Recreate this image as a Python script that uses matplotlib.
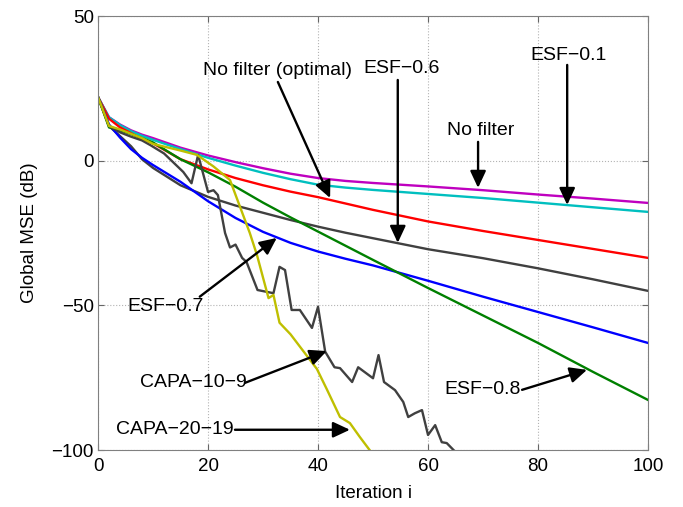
import numpy as np
import matplotlib
matplotlib.use('Agg')
import matplotlib.pyplot as plt

plt.rcParams['font.family'] = ['Liberation Sans', 'DejaVu Sans']

# smooth curves, sampled at these iterations
it = [0, 2, 4, 6, 8, 10, 15, 20, 25, 30, 35, 40, 45, 50, 60, 70, 80, 90, 100]

no_filter = [22, 15, 12.5, 10.5, 9, 7.8, 4.5, 1.8, -0.5, -2.6, -4.5, -6.0, -7.0, -7.7, -8.9, -10.2, -11.7, -13.1, -14.6]
esf_01 = [22, 15, 12.3, 10.2, 8.6, 7.2, 4.0, 1.0, -1.7, -4.2, -6.4, -8.3, -9.3, -10.1, -11.5, -12.9, -14.5, -16.1, -17.7]
no_filter_opt = [22, 14.5, 11.5, 9.5, 7.5, 6, 0.5, -3, -6, -8.5, -10.7, -12.6, -14.8, -17, -21, -24.3, -27.4, -30.5, -33.6]
esf_06 = [22, 12, 8.5, 5, 0.5, -2.5, -8.5, -12.5, -15.5, -18, -20.5, -22.8, -24.9, -26.8, -30.6, -33.7, -37.2, -41, -45]
esf_07 = [22, 12.5, 8, 4, 1, -1.5, -7.3, -14, -19.8, -24.6, -28.4, -31.4, -33.9, -36.2, -41.5, -47, -52.3, -57.6, -63]
esf_08 = [22, 11.5, 10.5, 9.2, 7.8, 6.3, 0.5, -4, -9, -14.5, -19.6, -24.5, -29.4, -34.3, -44, -53.5, -63, -73, -82.7]

# CAPA curves
capa20_it = [0, 2, 4, 6, 8, 10, 15, 18, 21, 24, 27.6, 28.9, 31, 31.9, 33, 35, 39.8, 41.6, 44, 45.8, 47.6, 49.5, 50]
capa20 = [22, 12, 10.8, 9.3, 7.8, 5.8, 3.5, 2, -2, -6.7, -25, -32.6, -47.5, -46.4, -56, -60, -72, -79, -88.6, -90.7, -95.5, -100.3, -101.5]

capa10_it = [0, 2, 4, 6, 8, 9.5, 12, 15.5, 17, 18.2, 20, 21, 21.8, 23.1, 24, 25, 26.2, 27, 29, 31.9, 33, 34,
             35.2, 36.7, 38.9, 40, 41.3, 43, 44, 46.2, 47.3, 50, 51, 52, 54, 55.5, 56.4, 57.6, 58.9, 60, 61.3,
             62.5, 63.4, 65, 66]
capa10 = [22, 12, 9.8, 8.3, 7, 5.4, 2.5, -3.9, -7.8, 2, -10.8, -10.2, -11.9, -25, -30, -29, -33.6, -35, -44.7,
          -45.8, -36.7, -37.8, -51.6, -51.6, -57.8, -50.5, -66, -71.4, -71.7, -76.5, -71.4, -75.2, -67.2, -76.5,
          -79.3, -83.4, -88.6, -87.3, -86.2, -94.8, -91.4, -97.3, -97.6, -100.7, -102]

fig = plt.figure(figsize=(6.83, 5.07), dpi=100)
ax = fig.add_axes([0.1435, 0.1124, 0.8053, 0.856])

lw = 1.7
ax.plot(it, no_filter, color=(0.75, 0, 0.75), lw=lw)
ax.plot(it, esf_01, color=(0, 0.75, 0.75), lw=lw)
ax.plot(it, no_filter_opt, color='red', lw=lw)
ax.plot(it, esf_06, color=(0.25, 0.25, 0.25), lw=lw)
ax.plot(it, esf_07, color='blue', lw=lw)
ax.plot(it, esf_08, color=(0, 0.5, 0), lw=lw)
ax.plot(capa10_it, capa10, color=(0.25, 0.25, 0.25), lw=lw)
ax.plot(capa20_it, capa20, color=(0.75, 0.75, 0), lw=lw)

ax.set_xlim(0, 100)
ax.set_ylim(-100, 50)
ax.set_xticks([0, 20, 40, 60, 80, 100])
ax.set_yticks([-100, -50, 0, 50])
ax.grid(True, linestyle=':', color='0.7', lw=0.8)
ax.tick_params(direction='in', top=True, right=True, labelsize=13.5, length=4, color='0.4')
ax.tick_params(axis='x', pad=6)
ax.tick_params(axis='y', pad=3)
for s in ax.spines.values():
    s.set_color('0.5')
ax.set_xlabel('Iteration i', fontsize=13.5, labelpad=7)
ax.set_ylabel('Global MSE (dB)', fontsize=13.5, labelpad=10)

arrow = dict(arrowstyle='-|>,head_length=0.6,head_width=0.28', color='k', lw=1.7,
             mutation_scale=17, shrinkA=0, shrinkB=0)
notes = [
    ('No filter (optimal)', (42.2, -12.9), (32.7, 31.3)),
    ('ESF\u22120.6', (54.5, -28.4), (55.1, 32.0)),
    ('ESF\u22120.1', (85.3, -15.3), (85.5, 36.5)),
    ('No filter', (69.1, -9.4), (69.5, 10.6)),
    ('ESF\u22120.7', (32.5, -26.7), (12.2, -50.5)),
    ('CAPA\u221210\u22129', (41.6, -65.8), (17.3, -76.8)),
    ('CAPA\u221220\u221219', (45.8, -93.0), (14.0, -93.0)),
    ('ESF\u22120.8', (88.9, -72.3), (70.0, -79.2)),
]
tails = [(32.7, 27.2), (54.5, 27.9), (85.3, 33.1), (69.1, 6.5),
         (18.5, -47), (26.7, -76.8), (24.9, -93.0), (77.1, -79.2)]
for (txt, head, pos), tail in zip(notes, tails):
    ax.text(pos[0], pos[1], txt, fontsize=14, ha='center', va='center')
    ax.annotate('', xy=head, xytext=tail, arrowprops=arrow)

fig.savefig('out.png', dpi=100)
